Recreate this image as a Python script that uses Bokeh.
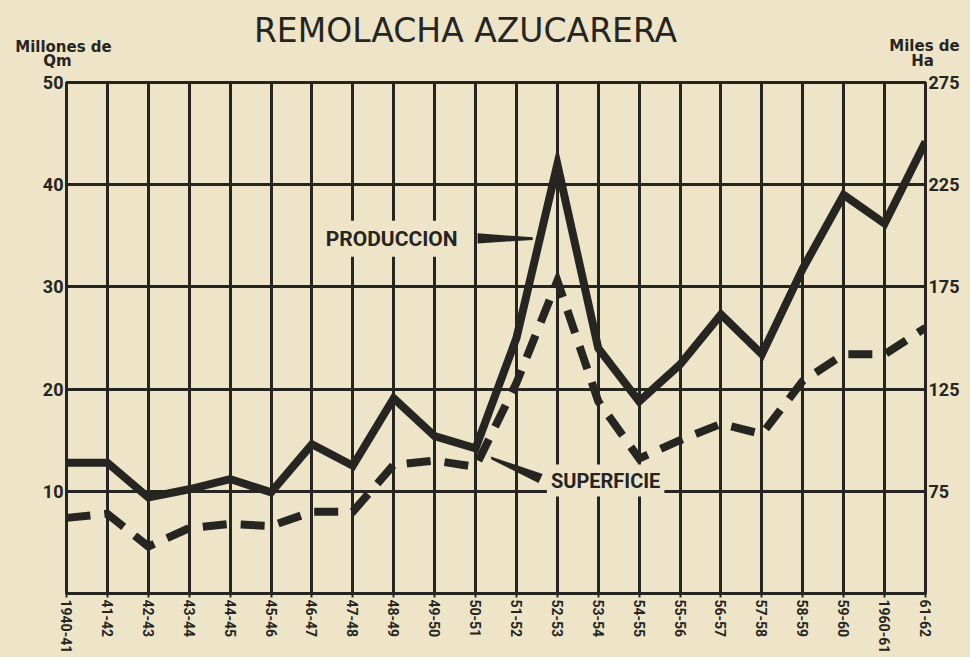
from bokeh.plotting import figure
from bokeh.layouts import column
from bokeh.models import LinearAxis, Range1d, FixedTicker, Label, PolyAnnotation
from bokeh.embed import file_html
from bokeh.resources import INLINE

# ---- data ----
campanas = ["1940-41", "41-42", "42-43", "43-44", "44-45", "45-46", "46-47", "47-48",
            "48-49", "49-50", "50-51", "51-52", "52-53", "53-54", "54-55", "55-56",
            "56-57", "57-58", "58-59", "59-60", "1960-61", "61-62"]
produccion = [12.8, 12.8, 9.4, 10.2, 11.2, 9.9, 14.6, 12.5, 19.1, 15.4, 14.2, 25.0,
              42.0, 24.0, 18.8, 22.4, 27.3, 23.4, 31.8, 39.0, 36.2, 44.2]   # millones de Qm
superficie = [62, 64, 48, 57, 59, 58, 65, 65, 88, 90, 87, 128,
              178, 119, 91, 100, 108, 103, 129, 142, 142, 155]             # miles de Ha
left_ticks = [10, 20, 30, 40, 50]
right_ticks = [75, 125, 175, 225, 275]

PAPER = "#EEE5C9"
INK = "#262522"
FONT = "Roboto"

HDR_H = 68

# ---- header strip: title and unit captions (pixel coordinates) ----
hdr = figure(width=970, height=HDR_H, x_range=Range1d(0, 970), y_range=Range1d(HDR_H, 0),
             output_backend="svg", toolbar_location=None, min_border=0,
             x_axis_type=None, y_axis_type=None, frame_align=False,
             background_fill_color=PAPER, border_fill_color=PAPER, outline_line_color=None)
hdr.add_layout(Label(x=465, y=30, text="REMOLACHA AZUCARERA", text_align="center",
                     text_baseline="middle", text_font="DejaVu Sans", text_font_size="33px",
                     text_color=INK))
for x, y, t in [(63, 46, "Millones de"), (57, 60, "Qm"),
                (924, 45, "Miles de"), (922, 60, "Ha")]:
    hdr.add_layout(Label(x=x, y=y, text=t, text_align="center", text_baseline="middle",
                         text_font="DejaVu Sans", text_font_style="bold",
                         text_font_size="15px", text_color=INK))

# ---- main chart ----
xs = list(range(len(campanas)))

p = figure(frame_width=859, frame_height=511,
           x_range=Range1d(0, len(campanas) - 1), y_range=Range1d(0, 50),
           output_backend="svg", toolbar_location=None, frame_align=False,
           min_border_left=66, min_border_top=82 - HDR_H, min_border_bottom=64,
           min_border_right=45,
           background_fill_color=PAPER, border_fill_color=PAPER,
           outline_line_color=INK, outline_line_width=3)
p.extra_y_ranges = {"sup": Range1d(25, 275)}

# grid
p.xgrid.ticker = FixedTicker(ticks=xs)
p.ygrid.ticker = FixedTicker(ticks=left_ticks)
for g in (p.xgrid, p.ygrid):
    g.grid_line_color = INK
    g.grid_line_width = 3
    g.grid_line_alpha = 1

# axes
p.xaxis.ticker = FixedTicker(ticks=xs)
p.xaxis.major_label_overrides = {i: c for i, c in enumerate(campanas)}
p.xaxis.major_label_orientation = "vertical"
p.xaxis.major_tick_out = 4
p.xaxis.major_tick_in = 0
p.xaxis.minor_tick_line_color = None
p.xaxis.axis_line_width = 3
p.xaxis.axis_line_color = INK
p.xaxis.major_tick_line_color = INK
p.xaxis.major_tick_line_width = 2
p.xaxis.major_label_text_font = FONT
p.xaxis.major_label_text_font_style = "bold"
p.xaxis.major_label_text_font_size = "14px"
p.xaxis.major_label_text_color = INK
p.xaxis.major_label_standoff = 2

p.yaxis.ticker = FixedTicker(ticks=left_ticks)
right_axis = LinearAxis(y_range_name="sup", ticker=FixedTicker(ticks=right_ticks))
p.add_layout(right_axis, "right")
for ax in (p.yaxis[0], right_axis):
    ax.major_tick_out = 0
    ax.major_tick_in = 0
    ax.minor_tick_line_color = None
    ax.axis_line_color = INK
    ax.axis_line_width = 3
    ax.major_label_text_font = FONT
    ax.major_label_text_font_style = "bold"
    ax.major_label_text_font_size = "18px"
    ax.major_label_text_color = INK
    ax.major_label_standoff = 3

# series
p.line(xs, produccion, line_color=INK, line_width=8, line_join="miter")
p.line(xs, superficie, y_range_name="sup", line_color=INK, line_width=8,
       line_dash="24 14", line_join="miter")

# series annotations
p.add_layout(Label(x=7.95, y=34.7, text="PRODUCCION", text_align="center",
                   text_baseline="middle", text_font=FONT, text_font_style="bold",
                   text_font_size="21px", text_color=INK,
                   background_fill_color=PAPER, padding=6))
p.add_layout(Label(x=13.18, y=11.05, text="SUPERFICIE", text_align="center",
                   text_baseline="middle", text_font=FONT, text_font_style="bold",
                   text_font_size="20px", text_color=INK,
                   background_fill_color=PAPER, padding=4))
p.add_layout(PolyAnnotation(xs=[10.05, 10.05, 11.4, 11.4], ys=[35.25, 34.25, 34.6, 34.85],
                            fill_color=INK, fill_alpha=1, line_color=None))
p.add_layout(PolyAnnotation(xs=[10.37, 10.39, 11.54, 11.64], ys=[13.4, 13.11, 10.8, 11.7],
                            fill_color=INK, fill_alpha=1, line_color=None))

layout = column(hdr, p, spacing=0, styles={"background-color": PAPER})
open("out.html", "w").write(file_html(layout, INLINE))
